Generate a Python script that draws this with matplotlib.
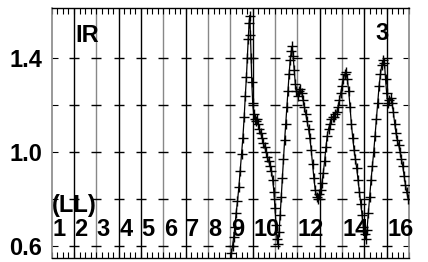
import numpy as np
import matplotlib
matplotlib.use("Agg")
import matplotlib.pyplot as plt

# light curve (cycle units, relative flux)
t = [8.05, 8.10, 8.15, 8.20, 8.26, 8.32, 8.38, 8.44, 8.50, 8.56, 8.62, 8.67,
     8.72, 8.76, 8.80, 8.84, 8.87, 8.90, 8.93, 8.96, 9.00, 9.05, 9.10, 9.15,
     9.20, 9.25, 9.30, 9.36, 9.42, 9.48, 9.54, 9.60, 9.66, 9.72, 9.78, 9.84,
     9.90, 9.95, 10.00, 10.05, 10.09, 10.13, 10.18, 10.23, 10.28, 10.33, 10.38,
     10.43, 10.48, 10.53, 10.58, 10.63, 10.68, 10.73, 10.77, 10.81, 10.86,
     10.91, 10.96, 11.02, 11.08, 11.14, 11.20, 11.26, 11.32, 11.38, 11.44,
     11.50, 11.56, 11.62, 11.68, 11.74, 11.80, 11.86, 11.92, 11.98, 12.04,
     12.10, 12.16, 12.22, 12.28, 12.34, 12.40, 12.46, 12.52, 12.58, 12.64,
     12.70, 12.76, 12.82, 12.88, 12.94, 13.00, 13.06, 13.12, 13.18, 13.24,
     13.30, 13.36, 13.42, 13.48, 13.54, 13.60, 13.66, 13.72, 13.78, 13.84,
     13.90, 13.96, 14.02, 14.07, 14.12, 14.18, 14.24, 14.30, 14.36, 14.42,
     14.48, 14.54, 14.60, 14.66, 14.72, 14.78, 14.84, 14.90, 14.95, 15.00,
     15.06, 15.12, 15.18, 15.24, 15.30, 15.36, 15.42, 15.48, 15.54, 15.60,
     15.66, 15.72, 15.78, 15.84, 15.90, 15.96]
flux = [0.57, 0.60, 0.64, 0.68, 0.74, 0.79, 0.85, 0.92, 0.99, 1.06, 1.15, 1.24,
        1.32, 1.40, 1.48, 1.55, 1.58, 1.50, 1.40, 1.30, 1.21, 1.16, 1.14, 1.13,
        1.14, 1.12, 1.10, 1.08, 1.06, 1.04, 1.02, 1.00, 0.98, 0.96, 0.94, 0.92,
        0.88, 0.83, 0.76, 0.69, 0.63, 0.61, 0.66, 0.73, 0.81, 0.89, 0.97,
        1.05, 1.12, 1.19, 1.26, 1.33, 1.39, 1.43, 1.45, 1.41, 1.35,
        1.29, 1.26, 1.24, 1.26, 1.27, 1.25, 1.22, 1.19, 1.16, 1.13,
        1.10, 1.06, 1.01, 0.95, 0.89, 0.84, 0.81, 0.80, 0.82, 0.84,
        0.87, 0.91, 0.96, 1.02, 1.07, 1.10, 1.12, 1.14, 1.15, 1.15,
        1.16, 1.17, 1.19, 1.22, 1.25, 1.28, 1.31, 1.33, 1.34, 1.31,
        1.26, 1.19, 1.12, 1.06, 1.01, 0.97, 0.93, 0.88, 0.83, 0.78,
        0.73, 0.68, 0.65, 0.63, 0.67, 0.74, 0.81, 0.88, 0.94, 1.00,
        1.07, 1.14, 1.21, 1.28, 1.33, 1.37, 1.39, 1.38, 1.31, 1.25,
        1.21, 1.22, 1.23, 1.21, 1.17, 1.12, 1.08, 1.05, 1.03, 1.00,
        0.97, 0.94, 0.90, 0.86, 0.83, 0.80]

cycle_lines = list(range(1, 16))
line_cols = ['k', '#888888', 'k', 'k', '#888888', 'k', '#888888', '#888888',
             'k', '#888888', '#888888', 'k', '#888888', 'k', 'k']
cycle_labels = ['1', '2', '3', '4', '5', '6', '7', '8', '9', '10', '12', '14', '16']
label_pos = [0, 1, 2, 3, 4, 5, 6, 7, 8, 9, 11, 13, 15]
ylev = [0.6, 0.8, 1.0, 1.2, 1.4]

plt.rcParams['font.family'] = ['Liberation Sans', 'DejaVu Sans']
plt.rcParams['font.weight'] = 'bold'

fig = plt.figure(figsize=(4.28, 2.62), dpi=100)
ax = fig.add_axes([0.1208, 0.0153, 0.8348, 0.9542])

for x, c in zip(cycle_lines, line_cols):
    ax.axvline(x, color=c, lw=1.0, zorder=1)
    ax.plot([x] * len(ylev), ylev, ls='none', marker='_', ms=7, mew=1.0,
            color='k', zorder=1)

ax.plot(t, flux, color='k', lw=0.9, marker='+', ms=6.5, mew=1.0, zorder=3)

fs = 17
for pos, lab in zip(label_pos, cycle_labels):
    ax.text(pos + 0.02, 0.643, lab, fontsize=fs, fontweight='bold', va='baseline')
ax.text(0.02, 0.745, '(LL)', fontsize=fs, fontweight='bold', va='baseline')
ax.text(1.06, 1.468, 'IR', fontsize=fs, fontweight='bold', va='baseline')
ax.text(14.5, 1.477, '3', fontsize=fs, fontweight='bold', va='baseline')

ax.set_xlim(0, 16)
ax.set_ylim(0.549, 1.613)
ax.set_yticks([0.6, 1.0, 1.4])
ax.set_yticklabels(['0.6', '1.0', '1.4'])
ax.set_yticks([0.8, 1.2], minor=True)
ax.set_xticks(np.arange(0, 16.01, 1))
ax.set_xticks(np.arange(0, 16.01, 0.25), minor=True)
ax.tick_params(axis='x', which='both', direction='in', top=True, bottom=True,
               labelbottom=False, length=4, width=0.8)
ax.tick_params(axis='y', which='both', direction='in', left=True, right=True,
               length=4, width=0.8, labelsize=fs, pad=7)
for s in ['left', 'right']:
    ax.spines[s].set_color('#888888')
    ax.spines[s].set_linewidth(1.2)
for s in ['top', 'bottom']:
    ax.spines[s].set_linewidth(1.0)

fig.savefig('out.png', dpi=100)
